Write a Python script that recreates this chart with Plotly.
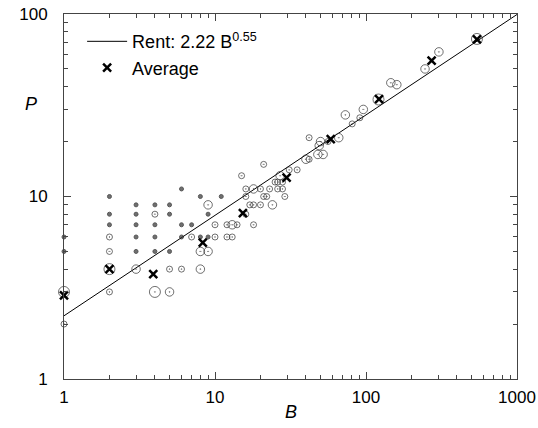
import plotly.graph_objects as go

# ---- data ----
# scattered cases: B (blocks), P (pins), cls (multiplicity class -> circle size)
pts_B = [1, 1, 2, 2, 2, 3, 3, 3, 3, 3, 4, 4, 4, 4, 5, 5, 5, 6, 6, 6, 7, 8, 8, 9, 9, 11,
         1, 2, 2, 2, 4, 5, 6, 7, 10, 10, 12, 12, 13, 14, 18, 16, 17, 18, 20, 16, 21, 22, 29,
         16, 20, 23, 26, 28, 25, 26, 28, 15, 31, 35, 21, 42, 42, 56, 81, 91,
         3, 5, 8, 9, 8, 9, 13, 24, 18, 27, 40, 48, 52, 49, 50, 66, 73, 96, 146, 160, 246, 304,
         1, 2, 4, 121, 543]
pts_P = [5, 6, 7, 8, 10, 5, 6, 7, 8, 9, 5, 6, 7, 9, 5, 8, 9, 6, 7, 11, 7, 6, 10, 6, 8, 10,
         2, 3, 5, 6, 8, 4, 4, 6, 6, 7, 6, 7, 6, 7, 7, 8, 9, 9, 9, 10, 10, 10, 10,
         11, 11, 11, 11, 11, 12, 12, 12, 13, 14, 14, 15, 16, 21, 20, 25, 27,
         4, 3, 4, 9, 5, 5, 7, 9, 11, 13, 16, 17, 17, 19, 20, 21, 28, 30, 42, 41, 50, 62,
         3, 4, 3, 34, 73]
pts_cls = [1] * 26 + [2] * 40 + [3] * 22 + [4] * 5

# averages (x marks)
avg_B = [1, 2, 3.9, 8.3, 15.3, 29.8, 58.4, 122, 272, 543]
avg_P = [2.87, 4.0, 3.75, 5.58, 8.1, 12.7, 20.6, 34.2, 55.5, 72.7]

# Rent's rule line endpoints: P = 2.22 * B^0.55
rent_B = [1, 1000]
rent_P = [2.22, 99.4]

x_tick_vals = [1, 10, 100, 1000]
x_tick_text = ["1", "10", "100", "1000"]
y_tick_vals = [1, 10, 100]
y_tick_text = ["1", "10", "100"]

# ---- styling ----
size_map = {1: 4, 2: 6, 3: 8.5, 4: 11}
symbol_map = {1: "circle", 2: "circle-open-dot", 3: "circle-open-dot", 4: "circle-open-dot"}
sizes = [size_map[c] for c in pts_cls]
symbols = [symbol_map[c] for c in pts_cls]
FONT = "Liberation Sans, Arial, sans-serif"
INK = "#111111"

fig = go.Figure()

fig.add_trace(go.Scatter(
    x=rent_B, y=rent_P, mode="lines",
    line=dict(color="black", width=1),
    name="Rent: 2.22 B<sup>0.55</sup>",
    cliponaxis=False,
))

fig.add_trace(go.Scatter(
    x=pts_B, y=pts_P, mode="markers",
    marker=dict(symbol=symbols, size=sizes, color="#333333",
                line=dict(width=1, color=INK)),
    showlegend=False, cliponaxis=False,
))

fig.add_trace(go.Scatter(
    x=avg_B, y=avg_P, mode="markers",
    marker=dict(symbol="x-thin", size=8, color="black",
                line=dict(width=2.5, color="black")),
    name="Average", cliponaxis=False,
))

axis_common = dict(
    type="log", showline=True, linecolor="#444444", linewidth=1,
    mirror="ticks", ticks="inside", ticklen=7, tickwidth=1, tickcolor="#444444",
    showgrid=False, zeroline=False, automargin=False,
    minor=dict(ticks="inside", ticklen=4, tickwidth=1, tickcolor="#444444",
               dtick="D1", showgrid=False),
    tickfont=dict(family=FONT, size=17, color="black"),
)

fig.update_xaxes(range=[0, 3], tickmode="array", tickvals=x_tick_vals,
                 ticktext=x_tick_text, ticklabelstandoff=3, **axis_common)
fig.update_yaxes(range=[0, 2], tickmode="array", tickvals=y_tick_vals,
                 ticktext=y_tick_text, ticklabelstandoff=12, **axis_common)

fig.update_layout(
    width=538, height=428,
    margin=dict(l=64, r=21, t=14, b=49, autoexpand=False),
    paper_bgcolor="white", plot_bgcolor="white",
    font=dict(family=FONT, size=17, color="black"),
    showlegend=True,
    legend=dict(x=0.04, y=0.975, xanchor="left", yanchor="top",
                bgcolor="rgba(0,0,0,0)", font=dict(family=FONT, size=18),
                itemwidth=40),
    annotations=[
        dict(text="<i>B</i>", xref="paper", yref="paper", x=0.5, y=-0.09,
             xanchor="center", yanchor="middle", showarrow=False,
             font=dict(family=FONT, size=18)),
        dict(text="<i>P</i>", xref="paper", yref="paper", x=-0.073, y=0.753,
             xanchor="center", yanchor="middle", showarrow=False,
             font=dict(family=FONT, size=18)),
    ],
)

fig.write_html(
    "out.html",
    config={"displayModeBar": False},
    post_script="document.body.style.margin='0';document.body.style.overflow='hidden';",
)
